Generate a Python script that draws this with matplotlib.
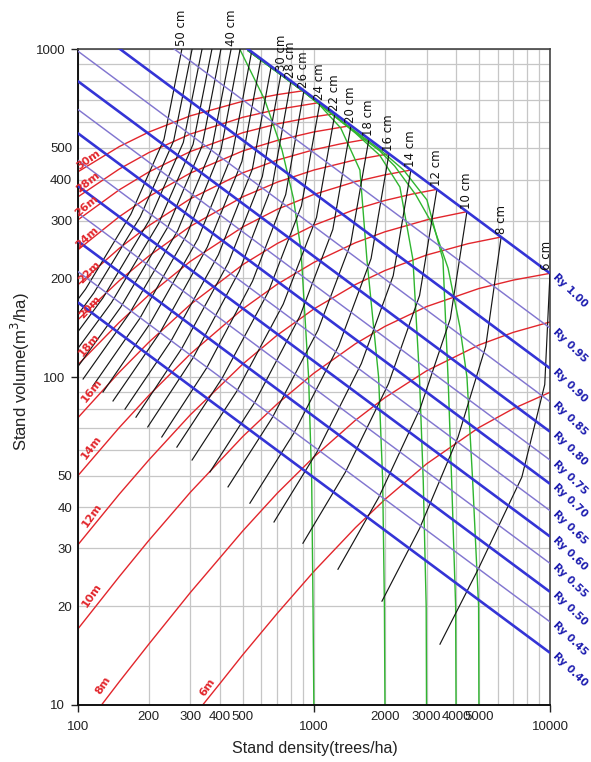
import matplotlib
matplotlib.use("Agg")
import matplotlib.pyplot as plt
from matplotlib.ticker import FixedLocator, FuncFormatter
import numpy as np

# ---------------- axes / ticks ----------------
x_major = [100, 1000, 10000]
x_minor_labeled = [200, 300, 400, 500, 2000, 3000, 4000, 5000]
x_minor_all = [200, 300, 400, 500, 600, 700, 800, 900,
               2000, 3000, 4000, 5000, 6000, 7000, 8000, 9000]
y_major = [10, 100, 1000]
y_minor_labeled = [20, 30, 40, 50, 200, 300, 400, 500]
y_minor_all = [20, 30, 40, 50, 60, 70, 80, 90, 200, 300, 400, 500, 600, 700, 800, 900]

# ---------------- Ry lines (V at N=100 and N=10000) ----------------
ry_labels = ["Ry 1.00", "Ry 0.95", "Ry 0.90", "Ry 0.85", "Ry 0.80", "Ry 0.75", "Ry 0.70",
             "Ry 0.65", "Ry 0.60", "Ry 0.55", "Ry 0.50", "Ry 0.45", "Ry 0.40"]
ry_v_n100 = [2434, 1658, 1249, 988, 800, 656, 555, 459, 383, 317, 260, 210, 169]
ry_v_n10000 = [207.2, 141.1, 106.3, 84.1, 68.1, 55.8, 47.2, 39.1, 32.6, 27.0, 22.1, 17.9, 14.4]

# ---------------- equal-height curves ----------------
height_labels = ["6m", "8m", "10m", "12m", "14m", "16m", "18m", "20m",
                 "22m", "24m", "26m", "28m", "30m"]
height_N = [
    [339, 400, 500, 700, 1000, 1500, 2000, 3000, 5000, 7000, 10000],
    [126.4, 150, 200, 300, 500, 700, 1000, 1500, 2000, 3000, 5000, 7000, 10000],
    [100, 150, 200, 300, 500, 700, 1000, 1500, 2000, 3000, 5000, 7000, 10000],
    [100, 150, 200, 300, 500, 700, 1000, 1500, 2000, 3000, 4500, 6209],
    [100, 150, 200, 300, 500, 700, 1000, 1500, 2000, 3000, 4448],
    [100, 150, 200, 300, 500, 700, 1000, 1500, 2000, 2600, 3319],
    [100, 150, 200, 300, 500, 700, 1000, 1500, 2000, 2576],
    [100, 150, 200, 300, 500, 700, 1000, 1500, 2080],
    [100, 150, 200, 300, 500, 700, 1000, 1300, 1711],
    [100, 150, 200, 300, 500, 700, 1000, 1436],
    [100, 150, 200, 300, 500, 700, 1000, 1228],
    [100, 150, 200, 300, 500, 700, 1061],
    [100, 150, 200, 300, 500, 700, 908],
]
height_V = [
    [10, 11.6, 14.2, 19.0, 25.5, 34.7, 42.3, 54.3, 70.1, 80.1, 89.8],
    [10, 11.75, 15.3, 22.0, 33.9, 44.2, 57.0, 73.8, 86.5, 104.4, 125.2, 136.9, 147.2],
    [17.0, 24.6, 31.7, 44.5, 65.8, 82.8, 102.7, 126.3, 142.7, 164.0, 186.2, 197.6, 207.2],
    [30.7, 43.9, 55.8, 76.7, 109.5, 134.2, 161.3, 191.5, 211.3, 235.6, 255.2, 267.4],
    [49.9, 70.1, 87.8, 117.6, 161.3, 191.9, 223.7, 256.9, 277.4, 301.5, 319.6],
    [75.0, 103.4, 127.6, 166.5, 220.2, 255.5, 290.4, 325.0, 345.7, 361.4, 373.8],
    [108.8, 146.8, 177.8, 225.4, 286.9, 324.9, 360.7, 394.6, 413.9, 428.1],
    [149.3, 196.8, 233.9, 288.4, 354.6, 393.2, 428.1, 460.0, 479.9],
    [190.9, 247.0, 289.6, 349.9, 419.8, 459.1, 493.8, 514.7, 532.9],
    [244.1, 308.5, 355.4, 419.1, 489.5, 527.1, 559.6, 585.1],
    [301.4, 372.6, 422.3, 487.6, 556.5, 592.1, 622.3, 636.3],
    [354.2, 431.2, 483.8, 551.3, 620.0, 655.3, 688.1],
    [422.4, 504.8, 559.0, 626.6, 694.0, 727.3, 747.8],
]
# label offsets (pixels right, pixels up) from the start of each curve
height_label_off = [(4, 17), (1, 19), (14, 34), (14, 30), (14, 29), (14, 27), (11, 20),
                    (12, 13), (12, 13), (9, 12), (9, 14), (10, 15), (11, 12)]

# ---------------- equal-diameter curves ----------------
diam_cm = [6, 8, 10, 12, 14, 16, 18, 20, 22, 24, 26, 28, 30, 32, 34, 36, 38, 40, 42, 44, 46, 48, 50]
diam_labeled = [6, 8, 10, 12, 14, 16, 18, 20, 22, 24, 26, 28, 30, 40, 50]
diam_N = [
    [10000, 9500, 7600, 4950, 3420],
    [6209, 5344, 4077, 2804, 1943],
    [4448, 3782, 2821, 1882, 1265],
    [3319, 2804, 2069, 1359, 899],
    [2576, 2168, 1589, 1033, 678],
    [2080, 1747, 1274, 823, 536],
    [1711, 1433, 1040, 668, 433],
    [1436, 1203, 873, 561, 363],
    [1228, 1026, 742, 473, 305],
    [1061, 886, 641, 409, 263],
    [908, 760, 550, 352, 227],
    [800, 668, 483, 308, 198],
    [726, 605, 435, 276, 176.5],
    [660, 549, 394, 249, 158.6],
    [597, 496, 354, 223, 141.1],
    [545, 452, 323, 202, 128],
    [487, 404, 290, 183, 116],
    [446, 370, 265, 166, 105.4],
    [404, 336, 241, 152, 96.5],
    [370, 308, 220, 139, 88.4],
    [336, 280, 201, 128, 81.7],
    [305, 255, 184, 117, 75.6],
    [276, 232, 168, 108, 69.9],
]
diam_V = [
    [207.2, 94.8, 49.5, 25.8, 15.3],
    [267.4, 124.1, 65.5, 34.5, 20.7],
    [319.6, 150.5, 80.3, 42.9, 25.9],
    [373.8, 177.4, 95.3, 51.2, 31.1],
    [428.1, 203.8, 109.9, 59.2, 36.1],
    [479.9, 229.8, 124.5, 67.4, 41.2],
    [532.9, 255.7, 138.8, 75.3, 46.2],
    [585.1, 281.9, 153.4, 83.5, 51.3],
    [636.3, 306.6, 166.9, 90.8, 55.8],
    [688.1, 332.9, 181.7, 99.2, 61.1],
    [747.8, 360.4, 196.1, 106.7, 65.6],
    [800.3, 386.0, 210.2, 114.4, 70.4],
    [842.9, 408.8, 223.6, 122.3, 75.4],
    [886.8, 430.8, 236.0, 129.2, 79.8],
    [935.7, 454.8, 249.3, 136.6, 84.5],
    [982.7, 479.7, 263.9, 145.2, 90.0],
    [1000, 491.8, 272.2, 150.7, 93.9],
    [1000, 499.2, 279.6, 156.7, 98.6],
    [1000, 506.6, 287.2, 163.2, 103.6],
    [1000, 513.0, 294.1, 168.7, 108.1],
    [1000, 519.5, 300.9, 174.4, 112.7],
    [1000, 526.1, 308.0, 180.4, 117.6],
    [1000, 531.6, 314.0, 185.5, 121.8],
]

# ---------------- natural thinning curves ----------------
thin_N0 = [1000, 2000, 3000, 4000, 5000]
thin_N = [
    [1000, 992, 979, 950, 882, 820, 733, 620, 486],
    [2000, 1990, 1956, 1880, 1678, 1567, 1300, 1050, 899, 700, 527],
    [3000, 2990, 2905, 2800, 2628, 2314, 1900, 1500, 1204, 900, 700, 527],
    [4000, 3985, 3832, 3700, 3521, 3012, 2400, 1900, 1614, 1204, 900, 700, 527],
    [5000, 4985, 4702, 4449, 4155, 3700, 3200, 2700, 2200, 1900, 1614, 1204, 900, 700, 527],
]
thin_V = [
    [10, 20, 48.5, 100, 244, 350, 493, 700, 1000],
    [10, 20, 48.5, 100, 228, 428, 575, 680, 745, 852, 990],
    [10, 20, 48.5, 100, 228, 380, 475, 555, 630, 745, 852, 990],
    [10, 20, 48.5, 100, 228, 347, 428, 495, 540, 632, 745, 852, 990],
    [10, 20, 48.5, 100, 142, 215, 290, 360, 440, 490, 535, 632, 745, 852, 990],
]

# ---------------- figure ----------------
W, H, DPI = 591, 762, 100
fig = plt.figure(figsize=(W / DPI, H / DPI), dpi=DPI)
ax = fig.add_axes([77.7 / W, 1 - 704.7 / H, 472.3 / W, 655.4 / H])
ax.set_xscale("log")
ax.set_yscale("log")
ax.set_xlim(100, 10000)
ax.set_ylim(10, 1000)

tickfont = "Liberation Sans"
ax.xaxis.set_major_locator(FixedLocator(x_major))
ax.xaxis.set_minor_locator(FixedLocator(x_minor_all))
ax.xaxis.set_major_formatter(FuncFormatter(lambda v, p: f"{int(round(v))}"))
ax.xaxis.set_minor_formatter(FuncFormatter(
    lambda v, p: f"{int(round(v))}" if int(round(v)) in x_minor_labeled else ""))
ax.yaxis.set_major_locator(FixedLocator(y_major))
ax.yaxis.set_minor_locator(FixedLocator(y_minor_all))
ax.yaxis.set_major_formatter(FuncFormatter(lambda v, p: f"{int(round(v))}"))
ax.yaxis.set_minor_formatter(FuncFormatter(
    lambda v, p: f"{int(round(v))}" if int(round(v)) in y_minor_labeled else ""))
ax.tick_params(axis="x", which="major", length=5, width=1, pad=7, labelsize=9.5, colors="#222222")
ax.tick_params(axis="x", which="minor", length=0, pad=4.5, labelsize=9.5, colors="#222222")
ax.tick_params(axis="y", which="major", length=5, width=1, pad=4, labelsize=9.5, colors="#222222")
ax.tick_params(axis="y", which="minor", length=0, pad=4, labelsize=9.5, colors="#222222")
for lab in ax.get_xticklabels(which="both") + ax.get_yticklabels(which="both"):
    lab.set_fontfamily(tickfont)

ax.grid(True, which="both", color="#c6c6c6", lw=0.9, zorder=0)
ax.set_axisbelow(True)
for s in ["left", "bottom"]:
    ax.spines[s].set_color("#111111")
    ax.spines[s].set_linewidth(1.4)
for s in ["top", "right"]:
    ax.spines[s].set_color("#444444")
    ax.spines[s].set_linewidth(1.2)

RED = "#e2262c"
for i, lab in enumerate(height_labels):
    ax.plot(height_N[i], height_V[i], color=RED, lw=1.0, zorder=2)

for i in range(len(thin_N0)):
    ax.plot(thin_N[i], thin_V[i], color="#2fb52f", lw=1.0, zorder=2.5)

for i, d in enumerate(diam_cm):
    ax.plot(diam_N[i], diam_V[i], color="#161616", lw=0.85, zorder=3)

for i, lab in enumerate(ry_labels):
    thick = (i % 2 == 0)
    ax.plot([100, 10000], [ry_v_n100[i], ry_v_n10000[i]],
            color="#3434d6" if thick else "#8276d0",
            lw=1.9 if thick else 1.05, zorder=4, solid_capstyle="butt")

fig.canvas.draw()

def disp_angle(n0, v0, n1, v1):
    p0 = ax.transData.transform((n0, v0))
    p1 = ax.transData.transform((n1, v1))
    return np.degrees(np.arctan2(p1[1] - p0[1], p1[0] - p0[0]))

PX2PT = 72.0 / DPI

for i, lab in enumerate(height_labels):
    ang = disp_angle(height_N[i][0], height_V[i][0], height_N[i][1], height_V[i][1]) + 4
    dx, dy = height_label_off[i]
    ax.annotate(lab, (height_N[i][0], height_V[i][0]), xytext=(dx * PX2PT, dy * PX2PT),
                textcoords="offset points", ha="center", va="center", rotation=ang,
                rotation_mode="anchor", color=RED, fontsize=8, fontweight="bold",
                family="DejaVu Sans", zorder=6, annotation_clip=False)

for i, d in enumerate(diam_cm):
    if d not in diam_labeled:
        continue
    n_top = diam_N[i][0]
    v_top = min(diam_V[i][0], 1000)
    dx = -4 if d == 6 else 0
    ax.annotate(f"{d} cm", (n_top, v_top), xytext=(dx * PX2PT, 3 * PX2PT),
                textcoords="offset points", ha="center", va="bottom", rotation=90,
                fontsize=8.5, color="#111111", family="DejaVu Sans", zorder=6,
                annotation_clip=False)

for i, lab in enumerate(ry_labels):
    ax.annotate(lab, (10000, ry_v_n10000[i]), xytext=(4 * PX2PT, -2 * PX2PT),
                textcoords="offset points", ha="left", va="center", rotation=-44,
                rotation_mode="anchor", fontsize=7.5, fontweight="bold", color="#1e1eb0",
                family="DejaVu Sans", annotation_clip=False)

fig.text(20 / W, 1 - 372 / H, "Stand volume(m$^3$/ha)", rotation=90, ha="center", va="center",
         fontsize=12, family="Liberation Sans", color="#222222")
fig.text(315 / W, 1 - 748 / H, "Stand density(trees/ha)", ha="center", va="center",
         fontsize=11.5, family="Liberation Sans", color="#222222")

fig.savefig("out.png", dpi=DPI)
